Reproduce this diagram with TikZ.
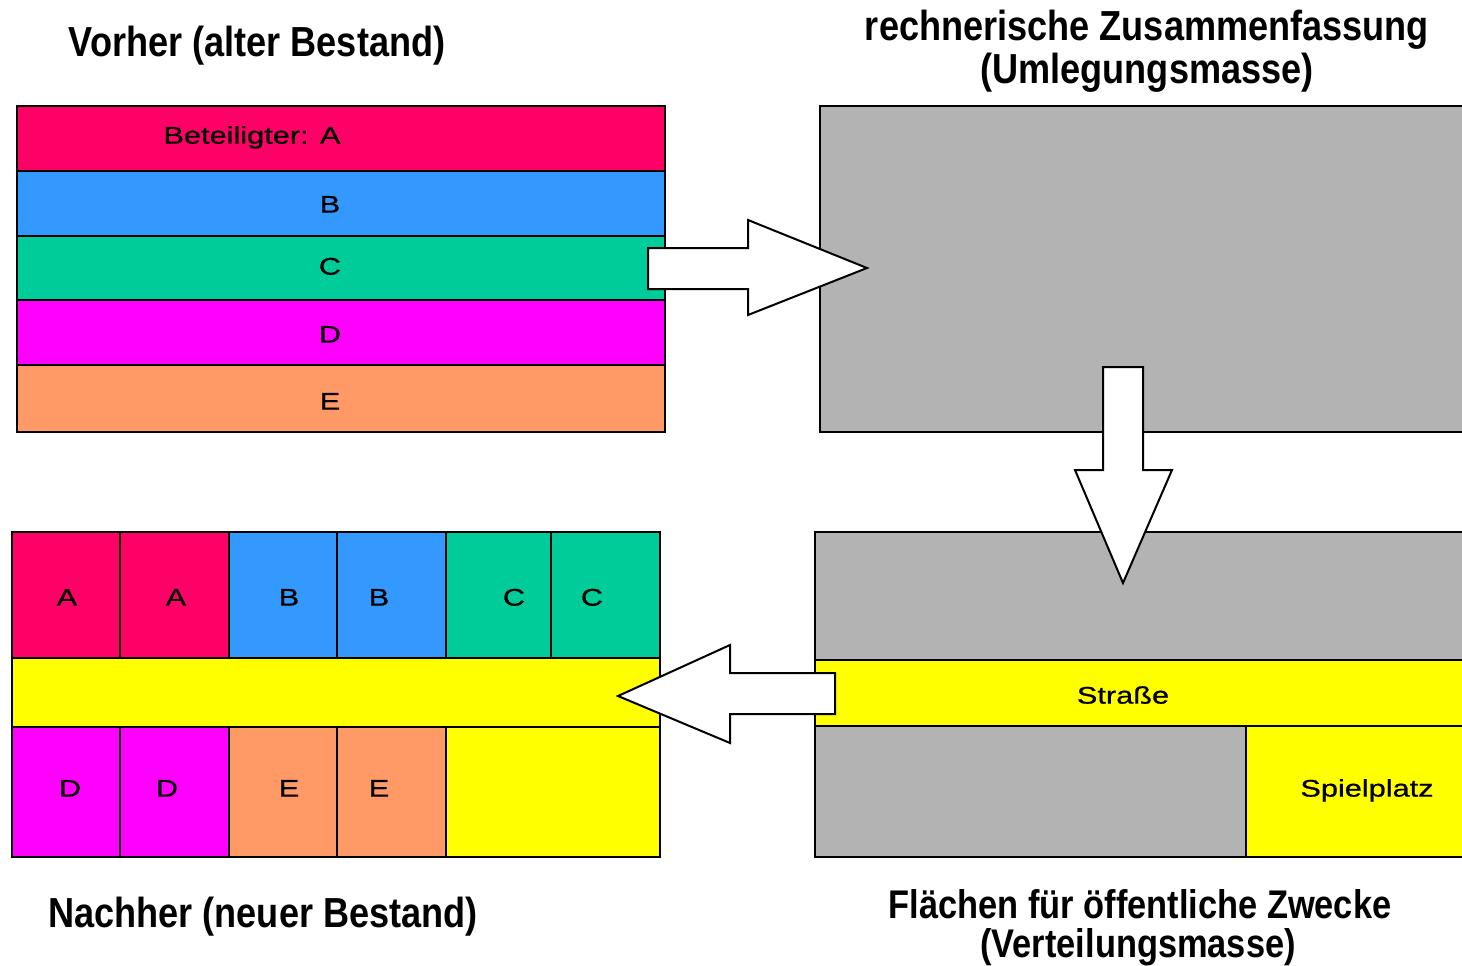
\documentclass[tikz,border=0pt]{standalone}
\usepackage{fontspec}
\setmainfont{Liberation Sans}
\newfontfamily\titlefont[FakeStretch=0.86]{Liberation Sans}
\newfontfamily\labfont[FakeStretch=1.28,FakeBold=0.8]{Liberation Sans}
\definecolor{cA}{HTML}{FF0066}
\definecolor{cB}{HTML}{3399FF}
\definecolor{cC}{HTML}{00CC99}
\definecolor{cD}{HTML}{FF00FF}
\definecolor{cE}{HTML}{FF9966}
\definecolor{cY}{HTML}{FFFF00}
\definecolor{cG}{HTML}{B3B3B3}
\tikzset{
  cell/.style={draw=black, line width=2pt, inner sep=0pt, outer sep=0pt},
  lab/.style={font=\labfont\fontsize{24}{24}\selectfont, inner sep=0pt, text height=17.2pt, text depth=0pt},
  ttl/.style={font=\titlefont\bfseries\fontsize{42}{41}\selectfont, inner sep=0pt, text height=30pt, text depth=0pt},
  ttlsmall/.style={ttl, font=\titlefont\bfseries\fontsize{40}{40}\selectfont, text height=28.6pt},
  blockarrow/.style={draw=black, fill=white, line width=2pt, line join=miter}
}
\newcommand\cellbox[6]{\node[cell, fill=#6, minimum width={(#4-#2)*1pt}, minimum height={(#5-#3)*1pt}] (#1) at ({(#2+#4)/2},{(#3+#5)/2}) {};}
\begin{document}
\begin{tikzpicture}[x=1pt,y=-1pt]
\clip (0,0) rectangle (1462,966);
\fill[white] (0,0) rectangle (1462,966);
% titles
\node[ttl] (t1) at (257,42) {Vorher (alter Bestand)};
\node[ttl] (t2a) at (1147,26) {rechnerische Zusammenfassung};
\node[ttl] (t2b) at (1147,69) {(Umlegungsmasse)};
\node[ttl] (t3) at (263,912) {Nachher (neuer Bestand)};
\node[ttlsmall] (t4a) at (1140,904) {Flächen für öffentliche Zwecke};
\node[ttlsmall] (t4b) at (1138,943) {(Verteilungsmasse)};
% before
\cellbox{sA}{17}{106}{665}{171}{cA}
\cellbox{sB}{17}{171}{665}{236}{cB}
\cellbox{sC}{17}{236}{665}{300}{cC}
\cellbox{sD}{17}{300}{665}{365}{cD}
\cellbox{sE}{17}{365}{665}{432}{cE}
\node[lab] (lA) at (252,135) {Beteiligter: A};
\node[lab] (lB) at (330,204) {B};
\node[lab] (lC) at (330,266) {C};
\node[lab] (lD) at (330,334) {D};
\node[lab] (lE) at (330,401) {E};
% mass
\cellbox{mass}{820}{106}{1475}{432}{cG}
% distribution
\cellbox{g1}{815}{532}{1475}{660}{cG}
\cellbox{road}{815}{660}{1475}{726}{cY}
\cellbox{g2}{815}{726}{1246}{857}{cG}
\cellbox{play}{1246}{726}{1475}{857}{cY}
\node[lab] (lroad) at (1123,695) {Straße};
\node[lab] (lplay) at (1367,788) {Spielplatz};
% after
\cellbox{a1}{12}{532}{120}{658}{cA}
\cellbox{a2}{120}{532}{229}{658}{cA}
\cellbox{b1}{229}{532}{337}{658}{cB}
\cellbox{b2}{337}{532}{446}{658}{cB}
\cellbox{c1}{446}{532}{551}{658}{cC}
\cellbox{c2}{551}{532}{660}{658}{cC}
\cellbox{road2}{12}{658}{660}{727}{cY}
\cellbox{d1}{12}{727}{120}{857}{cD}
\cellbox{d2}{120}{727}{229}{857}{cD}
\cellbox{e1}{229}{727}{337}{857}{cE}
\cellbox{e2}{337}{727}{446}{857}{cE}
\cellbox{play2}{446}{727}{660}{857}{cY}
\node[lab] at (67,597) {A};
\node[lab] at (176,597) {A};
\node[lab] at (289,597) {B};
\node[lab] at (379,597) {B};
\node[lab] at (514,597) {C};
\node[lab] at (592,597) {C};
\node[lab] at (70,788) {D};
\node[lab] at (167,788) {D};
\node[lab] at (289,788) {E};
\node[lab] at (379,788) {E};
% block arrows
\draw[blockarrow] (648,248) -- (748,248) -- (748,220) -- (867,268) -- (748,315) -- (748,289) -- (648,289) -- cycle;
\draw[blockarrow] (1103,367) -- (1143,367) -- (1143,470) -- (1172,470) -- (1123,583) -- (1075,470) -- (1103,470) -- cycle;
\draw[blockarrow] (835,673) -- (730,673) -- (730,645) -- (618,696) -- (730,743) -- (730,714) -- (835,714) -- cycle;
\end{tikzpicture}
\end{document}
